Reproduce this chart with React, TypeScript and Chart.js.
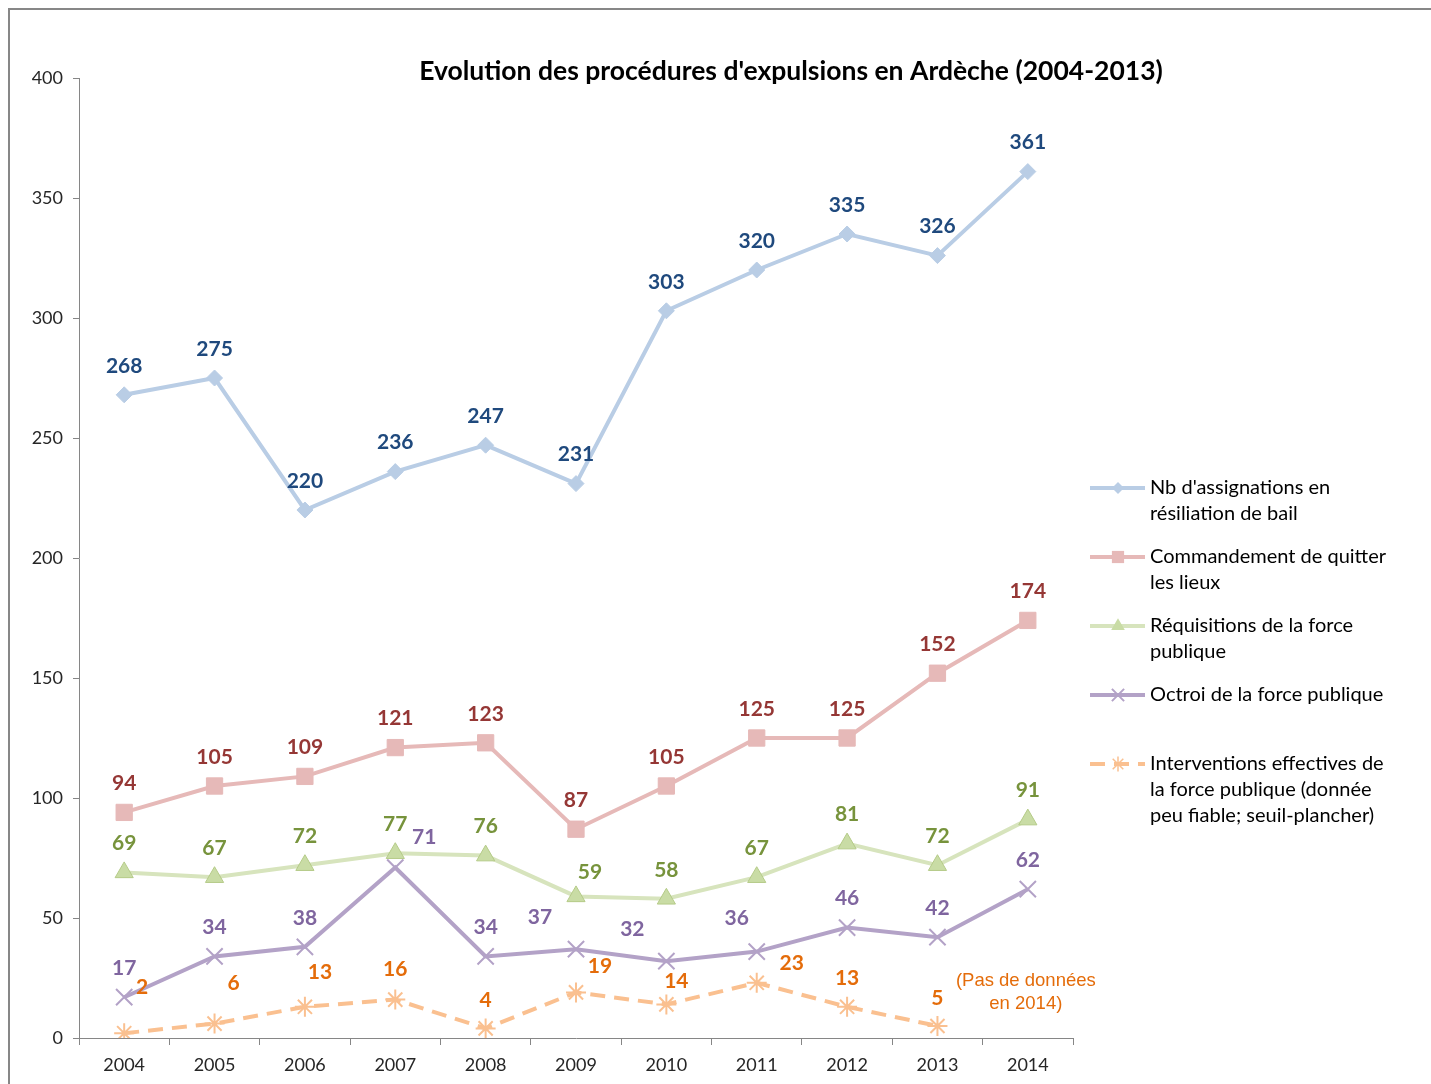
import React, { useEffect, useRef } from 'react';
import { Chart, registerables } from 'chart.js';

Chart.register(...registerables);

// ---------- data ----------
const years = ['2004', '2005', '2006', '2007', '2008', '2009', '2010', '2011', '2012', '2013', '2014'];
const assignations = [268, 275, 220, 236, 247, 231, 303, 320, 335, 326, 361];
const commandements = [94, 105, 109, 121, 123, 87, 105, 125, 125, 152, 174];
const requisitions = [69, 67, 72, 77, 76, 59, 58, 67, 81, 72, 91];
const octroi = [17, 34, 38, 71, 34, 37, 32, 36, 46, 42, 62];
const interventions: (number | null)[] = [2, 6, 13, 16, 4, 19, 14, 23, 13, 5, null];
const yTickValues = [0, 50, 100, 150, 200, 250, 300, 350, 400];

const titleText = "Evolution des procédures d'expulsions en Ardèche (2004-2013)";
const legendLabels: string[][] = [
  ["Nb d'assignations en", 'résiliation de bail'],
  ['Commandement de quitter', 'les lieux'],
  ['Réquisitions de la force', 'publique'],
  ['Octroi de la force publique'],
  ['Interventions effectives de', 'la force publique (donnée', 'peu fiable; seuil-plancher)'],
];
const noteLines = ['(Pas de données', 'en 2014)'];

// ---------- label layout (pixel shifts of value labels from their point) ----------
const DEF: [number, number] = [0, -29];
const labelShifts: [number, number][][] = [
  years.map(() => DEF),
  years.map(() => DEF),
  [DEF, DEF, DEF, DEF, DEF, [14, -24], DEF, DEF, DEF, DEF, DEF],
  [DEF, DEF, DEF, [29, -30], DEF, [-36, -32], [-34, -32], [-20, -33], DEF, DEF, DEF],
  [[18, -46], [19, -40], [15, -35], [0, -30], [0, -28], [24, -26], [10, -23], [35, -20], [0, -29], [0, -28], DEF],
];

// ---------- styles ----------
const FONT = "Lato, 'Open Sans', sans-serif";
const AXIS_COLOR = '#868686';
const lineColors = ['#B9CDE5', '#E6B9B8', '#D7E4BD', '#B3A2C7', '#FAC090'];
const markerFill = ['#B9CDE5', '#E6B9B8', '#C9DCA5', '#B3A2C7', '#FAC090'];
const markerBorder = ['#B9CDE5', '#E6B9B8', '#B5CB88', '#B3A2C7', '#FAC090'];
const labelColors = ['#1F497D', '#953735', '#77933C', '#7F659F', '#E46C0A'];
const markerStyles = ['rectRot', 'rect', 'triangle', 'crossRot', 'star'];
const markerRadius = [8, 11.5, 10.5, 11.5, 10];
const DASH = [15, 9];

function drawMarker(ctx: CanvasRenderingContext2D, style: string, x: number, y: number, r: number, color: string) {
  ctx.save();
  ctx.fillStyle = color;
  ctx.strokeStyle = color;
  ctx.setLineDash([]);
  ctx.beginPath();
  if (style === 'rectRot') {
    ctx.moveTo(x, y - r);
    ctx.lineTo(x + r, y);
    ctx.lineTo(x, y + r);
    ctx.lineTo(x - r, y);
    ctx.closePath();
    ctx.fill();
  } else if (style === 'rect') {
    const s = Math.SQRT1_2 * r;
    ctx.rect(x - s, y - s, 2 * s, 2 * s);
    ctx.fill();
  } else if (style === 'triangle') {
    ctx.moveTo(x, y - r);
    ctx.lineTo(x + r * 0.866, y + r * 0.5);
    ctx.lineTo(x - r * 0.866, y + r * 0.5);
    ctx.closePath();
    ctx.fill();
  } else if (style === 'crossRot') {
    ctx.lineWidth = 2;
    const d = Math.SQRT1_2 * r;
    ctx.moveTo(x - d, y - d);
    ctx.lineTo(x + d, y + d);
    ctx.moveTo(x - d, y + d);
    ctx.lineTo(x + d, y - d);
    ctx.stroke();
  } else if (style === 'star') {
    ctx.lineWidth = 1.5;
    const d = Math.SQRT1_2 * r;
    ctx.moveTo(x, y - r);
    ctx.lineTo(x, y + r);
    ctx.moveTo(x - d, y - d);
    ctx.lineTo(x + d, y + d);
    ctx.moveTo(x - d, y + d);
    ctx.lineTo(x + d, y - d);
    ctx.stroke();
  }
  ctx.restore();
}

const overlayPlugin = {
  id: 'overlay',
  afterDatasetsDraw(chart: any) {
    const ctx: CanvasRenderingContext2D = chart.ctx;
    const area = chart.chartArea;
    const xs = chart.scales.x;
    const ys = chart.scales.y;

    // value labels
    ctx.save();
    ctx.textAlign = 'center';
    ctx.textBaseline = 'middle';
    ctx.font = `bold 21px ${FONT}`;
    chart.data.datasets.forEach((ds: any, i: number) => {
      const meta = chart.getDatasetMeta(i);
      meta.data.forEach((pt: any, j: number) => {
        const v = ds.data[j];
        if (v === null || v === undefined) return;
        const [dx, dy] = labelShifts[i][j];
        ctx.fillStyle = labelColors[i];
        ctx.fillText(String(v), pt.x + dx, pt.y + dy);
      });
    });

    // note for missing 2014 value
    ctx.font = `18.5px 'Liberation Sans', Arial, sans-serif`;
    ctx.fillStyle = labelColors[4];
    const nx = xs.getPixelForValue(years.length - 1) - 2;
    const ny = ys.getPixelForValue(0);
    ctx.fillText(noteLines[0], nx, ny - 57);
    ctx.fillText(noteLines[1], nx, ny - 34);

    // title
    ctx.fillStyle = '#000';
    ctx.font = `bold 26.5px ${FONT}`;
    ctx.fillText(titleText, area.left + 712, area.top - 7);

    // legend
    const x0 = area.right + 17;
    let y = area.top + 410;
    ctx.textAlign = 'left';
    ctx.font = `20px ${FONT}`;
    legendLabels.forEach((lines, i) => {
      ctx.save();
      ctx.strokeStyle = lineColors[i];
      ctx.lineWidth = 4;
      if (i === 4) ctx.setLineDash(DASH);
      ctx.beginPath();
      ctx.moveTo(x0, y);
      ctx.lineTo(x0 + 55, y);
      ctx.stroke();
      ctx.restore();
      drawMarker(ctx, markerStyles[i], x0 + 28, y, markerRadius[i] * 0.75, markerFill[i]);
      ctx.fillStyle = '#000';
      lines.forEach((t, k) => ctx.fillText(t, x0 + 60, y + k * 26));
      y += Math.max(lines.length, 2) * 26 + 17;
    });
    ctx.restore();
  },
};

export default function App() {
  const ref = useRef<HTMLCanvasElement | null>(null);

  useEffect(() => {
    if (!ref.current) return;
    Chart.defaults.font.family = FONT;
    const series = [assignations, commandements, requisitions, octroi, interventions];
    const chart = new Chart(ref.current, {
      type: 'line',
      data: {
        labels: years,
        datasets: series.map((d, i) => ({
          label: legendLabels[i].join(' '),
          data: d,
          borderColor: lineColors[i],
          backgroundColor: markerFill[i],
          borderWidth: 4,
          borderDash: i === 4 ? DASH : [],
          pointStyle: markerStyles[i] as any,
          pointRadius: markerRadius[i],
          pointBackgroundColor: markerFill[i],
          pointBorderColor: markerBorder[i],
          pointBorderWidth: i >= 3 ? 2 : 1,
          tension: 0,
          fill: false,
        })),
      },
      options: {
        responsive: false,
        animation: false,
        events: [],
        layout: { padding: { top: 68, right: 358, bottom: 0, left: 0 } },
        plugins: {
          legend: { display: false },
          title: { display: false },
          tooltip: { enabled: false },
        },
        scales: {
          x: {
            type: 'category',
            offset: true,
            afterFit: (s: any) => { s.height = 46; },
            grid: {
              offset: true,
              drawOnChartArea: false,
              drawTicks: true,
              tickLength: 7,
              color: AXIS_COLOR,
            },
            border: { display: true, color: AXIS_COLOR, width: 1 },
            ticks: { color: '#262626', font: { size: 18, family: FONT }, padding: 9, maxRotation: 0 },
          },
          y: {
            min: 0,
            max: 400,
            afterFit: (s: any) => { s.width = 69; },
            afterBuildTicks: (s: any) => { s.ticks = yTickValues.map((v) => ({ value: v })); },
            grid: {
              drawOnChartArea: false,
              drawTicks: true,
              tickLength: 6,
              color: AXIS_COLOR,
            },
            border: { display: true, color: AXIS_COLOR, width: 1 },
            ticks: { color: '#262626', font: { size: 18, family: FONT }, padding: 10 },
          },
        },
      },
      plugins: [overlayPlugin],
    });
    return () => chart.destroy();
  }, []);

  return (
    <div
      style={{
        position: 'fixed',
        top: 8,
        left: 8,
        width: 1423,
        height: 1076,
        overflow: 'hidden',
        borderTop: '2px solid #878787',
        borderLeft: '2px solid #878787',
        boxSizing: 'border-box',
        background: '#fff',
      }}
    >
      <canvas ref={ref} width={1421} height={1074} style={{ display: 'block' }} />
    </div>
  );
}
